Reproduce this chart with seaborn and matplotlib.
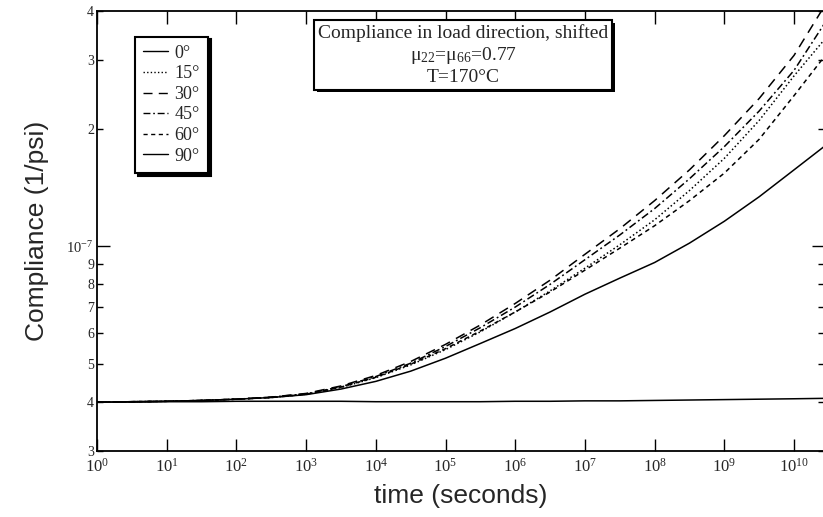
import numpy as np
import pandas as pd
import matplotlib
matplotlib.use("Agg")
import matplotlib.pyplot as plt
import matplotlib.patheffects as pe
from matplotlib.ticker import FixedLocator, FixedFormatter, NullLocator
import seaborn as sns

log_time = [0, 0.5, 1, 1.5, 2, 2.5, 3, 3.5, 4, 4.5, 5, 5.5, 6, 6.5, 7,
            7.5, 8, 8.5, 9, 9.5, 10, 10.43]

# compliance in units of 1e-8 1/psi
comp_0 = [4.00, 4.00, 4.01, 4.01, 4.02, 4.02, 4.02, 4.02, 4.01, 4.01, 4.01,
          4.01, 4.02, 4.02, 4.03, 4.03, 4.04, 4.05, 4.06, 4.07, 4.08, 4.09]
comp_15 = [4.00, 4.01, 4.02, 4.04, 4.07, 4.11, 4.19, 4.36, 4.62, 4.98, 5.45,
           6.05, 6.80, 7.70, 8.80, 10.1, 11.7, 13.9, 16.8, 21.0, 27.3, 33.7]
comp_30 = [4.00, 4.01, 4.02, 4.04, 4.07, 4.12, 4.21, 4.40, 4.68, 5.08, 5.62,
           6.30, 7.15, 8.20, 9.55, 11.1, 13.1, 15.7, 19.2, 23.9, 30.8, 41.0]
comp_45 = [4.00, 4.01, 4.02, 4.04, 4.07, 4.12, 4.20, 4.38, 4.65, 5.03, 5.55,
           6.20, 7.00, 8.00, 9.25, 10.7, 12.5, 14.9, 18.0, 22.2, 28.2, 37.0]
comp_60 = [4.00, 4.01, 4.02, 4.04, 4.07, 4.11, 4.19, 4.37, 4.63, 5.00, 5.48,
           6.08, 6.80, 7.65, 8.70, 9.90, 11.3, 13.1, 15.4, 18.8, 24.3, 30.5]
comp_90 = [4.00, 4.01, 4.02, 4.04, 4.07, 4.11, 4.18, 4.32, 4.52, 4.80, 5.18,
           5.65, 6.17, 6.80, 7.55, 8.30, 9.10, 10.2, 11.6, 13.4, 15.7, 18.0]

angles = ["0°", "15°", "30°", "45°", "60°", "90°"]
series = [comp_0, comp_15, comp_30, comp_45, comp_60, comp_90]

x_ticks = [10.0 ** k for k in range(11)]
x_tick_labels = [r"$10^{%d}$" % k for k in range(11)]
y_minor = [3e-8, 4e-8, 5e-8, 6e-8, 7e-8, 8e-8, 9e-8, 2e-7, 3e-7, 4e-7]
y_minor_labels = ["3", "4", "5", "6", "7", "8", "9", "2", "3", "4"]

rows = []
for ang, vals in zip(angles, series):
    for lt, v in zip(log_time, vals):
        rows.append({"time": 10.0 ** lt, "compliance": v * 1e-8, "angle": ang})
df = pd.DataFrame(rows)

sns.set_style("ticks")
plt.rcParams["font.family"] = ["Liberation Serif", "DejaVu Serif"]
plt.rcParams["mathtext.fontset"] = "custom"
plt.rcParams["mathtext.rm"] = "Liberation Serif"
plt.rcParams["mathtext.it"] = "Liberation Serif:italic"
plt.rcParams["mathtext.bf"] = "Liberation Serif:bold"

fig = plt.figure(figsize=(8.23, 5.17), dpi=100)
ax = fig.add_axes([97 / 823, 66 / 517, 727 / 823, 440 / 517])
ax.set_xscale("log")
ax.set_yscale("log")

dash_map = {"0°": "", "15°": (1, 1.6), "30°": (6.5, 4.5), "45°": (5, 2, 1.2, 2),
            "60°": (3, 2.5), "90°": ""}
sns.lineplot(data=df, x="time", y="compliance", style="angle",
             style_order=angles, dashes=dash_map, color="k", linewidth=1.1,
             ax=ax, legend=True)

ax.set_xlim(1, 10 ** 10.43)
ax.set_ylim(3e-8, 4e-7)

ax.xaxis.set_major_locator(FixedLocator(x_ticks))
ax.set_xticklabels(x_tick_labels)
ax.xaxis.set_minor_locator(NullLocator())
ax.yaxis.set_major_locator(FixedLocator([1e-7]))
ax.set_yticklabels([r"$10^{-7}$"])
ax.yaxis.set_minor_locator(FixedLocator(y_minor))
ax.yaxis.set_minor_formatter(FixedFormatter(y_minor_labels))

ax.tick_params(which="both", direction="in", top=True, right=True,
               color="k", width=1.0)
ax.tick_params(axis="x", which="major", length=9, labelsize=12, pad=5)
ax.tick_params(axis="y", which="major", length=9, labelsize=10.5, pad=3)
ax.tick_params(axis="y", which="minor", length=4.5, labelsize=10, pad=2)
for sp in ax.spines.values():
    sp.set_linewidth(1.3)
    sp.set_color("k")

ax.set_xlabel("time (seconds)", fontsize=19, family="Liberation Sans",
              labelpad=6)
ax.set_ylabel("Compliance (1/psi)", fontsize=19, family="Liberation Sans",
              labelpad=12)

old = ax.get_legend()
handles = old.legend_handles
labels = [t.get_text() for t in old.get_texts()]
for h in handles:
    h.set_color("k")
    h.set_linewidth(1.0)
leg = ax.legend(handles, labels, loc="upper left",
                bbox_to_anchor=(0.052, 0.942), borderaxespad=0,
                fontsize=13, handlelength=1.4, handletextpad=0.35,
                labelspacing=0.2, borderpad=0.45, fancybox=False,
                shadow={"color": "k", "alpha": 1.0}, framealpha=1.0)
leg.get_frame().set_edgecolor("k")
leg.get_frame().set_linewidth(1.5)

info = ax.text(0.504, 0.97,
               "Compliance in load direction, shifted\n"
               "μ$_{22}$=μ$_{66}$=0.77\nT=170°C",
               transform=ax.transAxes, ha="center", va="top",
               multialignment="center", fontsize=14, linespacing=1.2,
               bbox=dict(boxstyle="square,pad=0.2", fc="white", ec="k",
                         lw=1.5))
info.get_bbox_patch().set_path_effects(
    [pe.SimplePatchShadow(offset=(2, -2), shadow_rgbFace="k", alpha=1.0),
     pe.Normal()])

fig.savefig("out.png", dpi=100)
